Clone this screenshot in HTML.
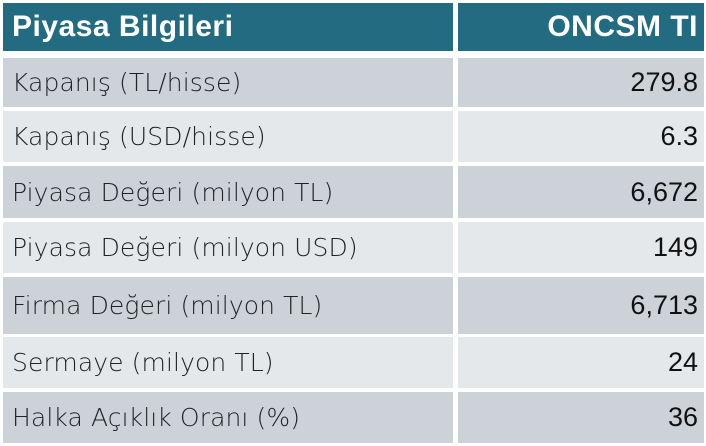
<!DOCTYPE html>
<html><head><style>
body{margin:0;width:706px;height:446px;background:#fff;position:relative;overflow:hidden;font-family:"Liberation Sans",sans-serif}
.c{position:absolute;box-sizing:border-box;display:flex;align-items:center}
.l{left:3px;width:450px;padding-left:9px;font-family:"DejaVu Sans",sans-serif;font-weight:200;font-size:25px;color:#222;letter-spacing:0.1px}
.r{left:458px;width:246px;justify-content:flex-end;padding-right:6px;font-size:27px;color:#111}
.h{background:#226b80;color:#fff;font-weight:bold;font-size:30px;font-family:"Liberation Sans",sans-serif;letter-spacing:0.5px}
.g{background:#cdd2d9}.w{background:#e5e8eb}
</style></head><body>
<div class="c l h" style="top:3px;height:48px">Piyasa Bilgileri</div>
<div class="c r h" style="top:3px;height:48px">ONCSM TI</div>

<div class="c l g" style="top:58px;height:49px">Kapanış (TL/hisse)</div><div class="c r g" style="top:58px;height:49px">279.8</div>
<div class="c l w" style="top:111px;height:51px">Kapanış (USD/hisse)</div><div class="c r w" style="top:111px;height:51px">6.3</div>
<div class="c l g" style="top:166px;height:52px">Piyasa Değeri (milyon TL)</div><div class="c r g" style="top:166px;height:52px">6,672</div>
<div class="c l w" style="top:222px;height:51px">Piyasa Değeri (milyon USD)</div><div class="c r w" style="top:222px;height:51px">149</div>
<div class="c l g" style="top:277px;height:57px">Firma Değeri (milyon TL)</div><div class="c r g" style="top:277px;height:57px">6,713</div>
<div class="c l w" style="top:337px;height:51px">Sermaye (milyon TL)</div><div class="c r w" style="top:337px;height:51px">24</div>
<div class="c l g" style="top:392px;height:51px">Halka Açıklık Oranı (%)</div><div class="c r g" style="top:392px;height:51px">36</div>
</body></html>
